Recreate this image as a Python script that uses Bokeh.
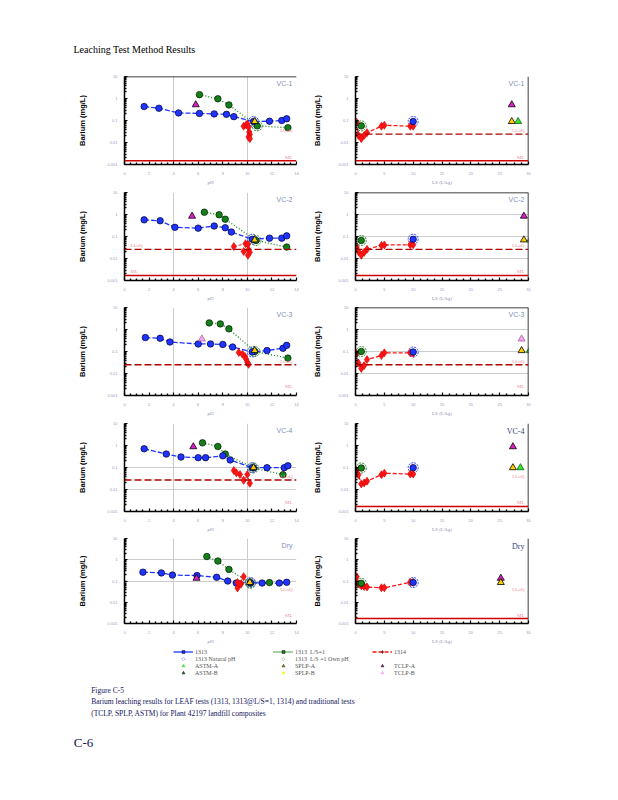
from bokeh.plotting import figure
from bokeh.models import (FixedTicker, Span, Label, Legend, LegendItem,
                          ColumnDataSource, CustomJSTickFormatter)
from bokeh.layouts import column, row
from bokeh.embed import file_html
from bokeh.resources import INLINE

# ---------------- data ----------------
COMPOSITES = ["VC-1", "VC-2", "VC-3", "VC-4", "Dry"]
PH_TICKS = [0, 2, 4, 6, 8, 10, 12, 14]
LS_TICKS = [0, 5, 10, 15, 20, 25, 30]
BA_TICKS = [0.001, 0.01, 0.1, 1, 10]
BA_TICK_LABELS = ["0.001", "0.01", "0.1", "1", "10"]
LS_1314 = [0.2, 0.5, 1.0, 1.5, 2.0, 4.5, 5.0, 9.5, 10.0]
LS_NAT = 10.0
LS_OWN = 1.0

VC1_1313_PH = [1.6, 2.8, 4.4, 6.1, 7.3, 8.3, 8.9, 10.5, 11.8, 12.8, 13.2]
VC1_1313_BA = [0.43, 0.36, 0.22, 0.21, 0.20, 0.19, 0.15, 0.09, 0.093, 0.10, 0.12]
VC1_NAT = [10.5, 0.09]
VC1_LS1_PH = [6.1, 7.6, 8.5, 10.8, 13.3]
VC1_LS1_BA = [1.5, 0.97, 0.51, 0.057, 0.047]
VC1_OWN = [10.8, 0.057]
VC1_1314_PH = [9.7, 9.9, 10.0, 10.1, 10.15, 10.2, 10.1, 10.2]
VC1_1314_PHBA = [0.055, 0.063, 0.07, 0.05, 0.03, 0.023, 0.018, 0.015]
VC1_1314_BA = [0.084, 0.021, 0.015, 0.021, 0.028, 0.055, 0.061, 0.055, 0.055]
VC1_TCLP = ["A", 5.8, 27.1, 0.52]
VC1_SPLP = [10.6, 27.1, 0.09]
VC1_ASTM = [[28.2], [0.09]]
VC1_QL, VC1_ML = 0.024, 0.0015

VC2_1313_PH = [1.6, 2.9, 4.1, 6.0, 7.3, 8.2, 8.7, 10.4, 11.8, 12.8, 13.2]
VC2_1313_BA = [0.57, 0.52, 0.26, 0.24, 0.30, 0.25, 0.16, 0.075, 0.084, 0.084, 0.107]
VC2_NAT = [10.4, 0.075]
VC2_LS1_PH = [6.5, 7.7, 8.2, 10.7, 13.2]
VC2_LS1_BA = [1.27, 0.97, 0.61, 0.066, 0.033]
VC2_OWN = [10.7, 0.066]
VC2_1314_PH = [8.9, 9.85, 10.05, 9.7, 10.1, 10.2, 10.05]
VC2_1314_PHBA = [0.035, 0.047, 0.044, 0.021, 0.025, 0.019, 0.014]
VC2_1314_BA = [0.033, 0.021, 0.014, 0.019, 0.026, 0.039, 0.041, 0.042, 0.042]
VC2_TCLP = ["A", 5.5, 29.2, 0.84]
VC2_SPLP = [10.6, 29.2, 0.07]
VC2_ASTM = [[30.3], [0.07]]
VC2_QL, VC2_ML = 0.026, 0.0017

VC3_1313_PH = [1.7, 2.9, 3.7, 6.0, 7.0, 8.0, 8.8, 10.4, 11.6, 12.9, 13.2]
VC3_1313_BA = [0.43, 0.40, 0.27, 0.22, 0.22, 0.21, 0.16, 0.095, 0.11, 0.14, 0.19]
VC3_NAT = [10.4, 0.095]
VC3_LS1_PH = [6.9, 7.8, 8.5, 10.6, 13.3]
VC3_LS1_BA = [2.0, 1.8, 1.07, 0.10, 0.05]
VC3_OWN = [10.6, 0.10]
VC3_1314_PH = [9.3, 9.6, 9.8, 9.9, 10.0, 10.1]
VC3_1314_PHBA = [0.09, 0.075, 0.06, 0.045, 0.032, 0.026]
VC3_1314_BA = [0.083, 0.03, 0.017, 0.023, 0.043, 0.066, 0.087, 0.087, 0.083]
VC3_TCLP = ["B", 6.3, 28.8, 0.37]
VC3_SPLP = [10.6, 28.8, 0.11]
VC3_ASTM = [[30.2], [0.11]]
VC3_QL, VC3_ML = 0.025, 0.0017

VC4_1313_PH = [1.6, 3.4, 4.6, 6.0, 6.6, 8.0, 8.6, 10.4, 11.6, 13.0, 13.3]
VC4_1313_BA = [0.71, 0.41, 0.30, 0.28, 0.28, 0.34, 0.22, 0.098, 0.098, 0.098, 0.12]
VC4_NAT = [10.4, 0.098]
VC4_LS1_PH = [6.35, 7.6, 8.2, 10.5, 12.9]
VC4_LS1_BA = [1.32, 0.90, 0.41, 0.095, 0.047]
VC4_OWN = [10.5, 0.095]
VC4_1314_PH = [8.9, 9.1, 9.4, 9.7, 10.0, 10.2]
VC4_1314_PHBA = [0.073, 0.057, 0.048, 0.026, 0.048, 0.019]
VC4_1314_BA = [0.073, 0.047, 0.018, 0.020, 0.024, 0.047, 0.055, 0.050, 0.050]
VC4_TCLP = ["A", 5.6, 27.3, 0.88]
VC4_SPLP = [10.5, 27.3, 0.098]
VC4_ASTM = [[28.6], [0.098]]
VC4_QL, VC4_ML = 0.027, 0.0017

DRY_1313_PH = [1.5, 3.0, 3.9, 5.9, 7.5, 8.4, 9.1, 10.25, 11.2, 12.6, 13.2]
DRY_1313_BA = [0.26, 0.24, 0.19, 0.18, 0.15, 0.10, 0.08, 0.085, 0.08, 0.08, 0.087]
DRY_NAT = [10.25, 0.085]
DRY_LS1_PH = [6.7, 7.6, 8.5, 10.25, 11.8]
DRY_LS1_BA = [1.42, 0.87, 0.35, 0.078, 0.084]
DRY_OWN = [10.25, 0.078]
DRY_1314_PH = [9.7, 9.2, 9.5, 9.4, 9.2]
DRY_1314_PHBA = [0.16, 0.084, 0.075, 0.071, 0.047]
DRY_1314_BA = [0.16, 0.073, 0.06, 0.055, 0.052, 0.048, 0.048, 0.087, 0.087]
DRY_TCLP = ["A", 5.86, 25.2, 0.135]
DRY_SPLP = [10.2, 25.2, 0.085]
DRY_ASTM = [[], []]
DRY_QL, DRY_ML = 0.028, 0.0017

# ---------------- styling config ----------------
QL_LINE_L = [False, True, True, True, False]
QL_LINE_R = [True, True, True, False, False]
ML_LINE_L = [True, True, False, False, False]
ML_LINE_R = [True, True, False, True, True]
HGRID_L = [[], [], [], [0.1, 0.01], [1, 0.1]]
HGRID_R = [[], [1, 0.1, 0.01], [1, 0.1, 0.01], [], []]
TOP_L = [True, False, False, False, False]
TOP_R = [False, True, True, False, False]
SERIF_NAME_R = [False, False, False, True, True]
BORDER_TOP = [5, 5, 4, 5, 4]
BORDER_BOTTOM = [23, 23, 23, 23, 20]

BLUE = "#1f35ff"
GREEN = "#15801a"
RED = "#ff1414"
QL_RED = "#b00000"
ML_RED = "#cc0000"
TCLP_A = "#e01ec8"
TCLP_B = "#f6a6ea"
SPLP_C = "#ffcc00"
ASTM_C = "#33e633"
TICK_LBL = "#9a9ac0"
SANS = "Liberation Sans"
SERIF = "Liberation Serif"
FRAME_H = 88

DATA = []
for pre in ["VC1", "VC2", "VC3", "VC4", "DRY"]:
    g = globals()
    DATA.append(dict(
        p1313=g[pre + "_1313_PH"], b1313=g[pre + "_1313_BA"], nat=g[pre + "_NAT"],
        pls1=g[pre + "_LS1_PH"], bls1=g[pre + "_LS1_BA"], own=g[pre + "_OWN"],
        p1314=g[pre + "_1314_PH"], pb1314=g[pre + "_1314_PHBA"], b1314=g[pre + "_1314_BA"],
        tclp=g[pre + "_TCLP"], splp=g[pre + "_SPLP"], astm=g[pre + "_ASTM"],
        ql=g[pre + "_QL"], ml=g[pre + "_ML"]))

fmt = CustomJSTickFormatter(args=dict(labels=BA_TICK_LABELS),
                            code="const e = Math.round(Math.log10(tick)); return labels[e + 3];")


def minor_between(ticks, n):
    out = []
    for a, b in zip(ticks[:-1], ticks[1:]):
        for k in range(1, n + 1):
            out.append(a + (b - a) * k / (n + 1))
    return out


def make_panel(i, left):
    d = DATA[i]
    tb, bb = BORDER_TOP[i], BORDER_BOTTOM[i]
    xr = (0, 14) if left else (0, 30)
    p = figure(width=306 if left else 232, height=tb + FRAME_H + bb,
               x_range=xr, y_range=(0.001, 10), y_axis_type="log",
               output_backend="svg", toolbar_location=None,
               min_border_left=124 if left else 49, min_border_right=10,
               min_border_top=tb, min_border_bottom=bb)
    p.outline_line_color = None
    p.background_fill_color = "white"
    p.border_fill_color = "white"

    p.xgrid.ticker = FixedTicker(ticks=[4, 10] if left else [])
    p.xgrid.grid_line_color = "#cccccc"
    p.ygrid.ticker = FixedTicker(ticks=HGRID_L[i] if left else HGRID_R[i])
    p.ygrid.grid_line_color = "#cccccc"

    xa = p.xaxis[0]
    ticks = PH_TICKS if left else LS_TICKS
    xa.ticker = FixedTicker(ticks=ticks, minor_ticks=minor_between(ticks, 3))
    xa.axis_label = "pH" if left else "LS (L/kg)"
    ya = p.yaxis[0]
    minors = [k * 10.0 ** e for e in range(-3, 1) for k in range(2, 10)]
    ya.ticker = FixedTicker(ticks=BA_TICKS, minor_ticks=minors)
    ya.formatter = fmt
    ya.axis_label = "Barium (mg/L)"
    for ax in (xa, ya):
        ax.axis_line_color = "black"
        ax.axis_line_width = 1.5
        ax.major_tick_in = 3
        ax.major_tick_out = 0
        ax.minor_tick_in = 2
        ax.minor_tick_out = 0
        ax.major_tick_line_width = 1.2
        ax.minor_tick_line_width = 1.4
        ax.major_tick_line_color = "black"
        ax.minor_tick_line_color = "black"
        ax.major_label_text_font_size = "4px"
        ax.major_label_text_color = TICK_LBL
        ax.major_label_text_font = SANS
    xa.major_label_standoff = 7
    xa.axis_label_standoff = 2
    xa.axis_label_text_font_size = "5px"
    xa.axis_label_text_font_style = "normal"
    xa.axis_label_text_color = "#8f8fb0"
    xa.axis_label_text_font = SERIF
    ya.major_label_standoff = 7
    ya.axis_label_standoff = 17 if left else 13
    ya.axis_label_text_font_size = "7.5px"
    ya.axis_label_text_font_style = "bold"
    ya.axis_label_text_color = "black"
    ya.axis_label_text_font = SANS

    xend = xr[1]
    if (left and TOP_L[i]) or ((not left) and TOP_R[i]):
        p.add_layout(Span(location=10, dimension="width", line_color="black", line_width=1.5))
    if not left:
        p.add_layout(Span(location=xend, dimension="height", line_color="black", line_width=1.5))

    show_ql = QL_LINE_L[i] if left else QL_LINE_R[i]
    show_ml = ML_LINE_L[i] if left else ML_LINE_R[i]
    if show_ql:
        p.add_layout(Span(location=d["ql"], dimension="width", line_color=QL_RED,
                          line_dash="7 3", line_width=1.3))
    if show_ml:
        p.add_layout(Span(location=d["ml"], dimension="width", line_color=ML_RED,
                          line_width=1.5))
    at_left = left and i == 1
    for txt, lev in (("LLoQ", d["ql"]), ("ML", d["ml"])):
        p.add_layout(Label(x=0 if at_left else xend, y=lev, text=txt,
                           x_offset=6 if at_left else -4, y_offset=1,
                           text_align="left" if at_left else "right",
                           text_baseline="bottom", text_font_size="5px",
                           text_color="#ee8f9a", text_font=SERIF))

    serif = (not left) and SERIF_NAME_R[i]
    p.add_layout(Label(x=xend, y=10, text=COMPOSITES[i], x_offset=-4, y_offset=-3,
                       text_align="right", text_baseline="top",
                       text_font_size="8px" if serif else "7px",
                       text_font=SERIF if serif else SANS,
                       text_color="#34447a" if serif else "#7f90b8"))

    ring = dict(marker="circle", size=10, fill_color=None, line_width=0.9, line_dash="2 1")
    blue_pt = dict(marker="circle", size=6.5, fill_color=BLUE, line_color="#000030", line_width=0.7)
    green_pt = dict(marker="circle", size=6.5, fill_color=GREEN, line_color="#001800", line_width=0.7)
    red_pt = dict(marker="diamond", size=8, fill_color=RED, line_color="#d00000", line_width=0.6)

    tv, tph, tls, tba = d["tclp"]
    tclp_fill = TCLP_A if tv == "A" else TCLP_B
    tclp_line = "black" if tv == "A" else "#b060a8"
    sph, sls, sba = d["splp"]

    if left:
        p.scatter([d["nat"][0]], [d["nat"][1]], line_color=BLUE, **ring)
        p.scatter([d["own"][0]], [d["own"][1]], line_color=GREEN, **ring)
        p.line(d["pls1"], d["bls1"], line_color=GREEN, line_width=1.3, line_dash="1 2")
        p.line(d["p1313"], d["b1313"], line_color=BLUE, line_width=1.3, line_dash="5 2")
        p.line(d["p1314"], d["pb1314"], line_color=RED, line_width=1.0, line_dash="3 2")
        p.scatter(d["pls1"], d["bls1"], **green_pt)
        p.scatter(d["p1313"], d["b1313"], **blue_pt)
        p.scatter(d["p1314"], d["pb1314"], **red_pt)
        p.scatter([tph], [tba], marker="triangle", size=7, fill_color=tclp_fill,
                  line_color=tclp_line, line_width=0.8)
        p.scatter([sph], [sba], marker="triangle", size=7, fill_color=SPLP_C,
                  line_color="black", line_width=0.8)
    else:
        p.scatter([LS_NAT], [d["nat"][1]], line_color=BLUE, **ring)
        p.scatter([LS_OWN], [d["own"][1]], line_color=GREEN, **ring)
        p.line(LS_1314, d["b1314"], line_color=RED, line_width=1.3, line_dash="4 2")
        p.scatter(LS_1314, d["b1314"], **red_pt)
        p.scatter([LS_OWN], [d["own"][1]], **green_pt)
        p.scatter([LS_NAT], [d["nat"][1]], **blue_pt)
        p.scatter([tls], [tba], marker="triangle", size=7, fill_color=tclp_fill,
                  line_color=tclp_line, line_width=0.8)
        p.scatter([sls], [sba], marker="triangle", size=7, fill_color=SPLP_C,
                  line_color="black", line_width=0.8)
        p.scatter(d["astm"][0], d["astm"][1], marker="triangle", size=7,
                  fill_color=ASTM_C, line_color="#106010", line_width=0.8)
    return p


rows = [row(make_panel(i, True), make_panel(i, False)) for i in range(5)]

hdr = figure(width=600, height=71, x_range=(0, 600), y_range=(0, 71),
             x_axis_type=None, y_axis_type=None, output_backend="svg",
             toolbar_location=None, min_border=0)
hdr.outline_line_color = None
hdr.grid.visible = False
hdr.add_layout(Label(x=73, y=22, text="Leaching Test Method Results", text_font=SERIF,
                     text_font_size="10px", text_baseline="middle", text_color="black"))

ft = figure(width=600, height=146, x_range=(0, 600), y_range=(0, 146),
            x_axis_type=None, y_axis_type=None, output_backend="svg",
            toolbar_location=None, min_border=0)
ft.outline_line_color = None
ft.grid.visible = False
NAN = float("nan")
src = ColumnDataSource(data=dict(x=[NAN], y=[NAN]))


def ln(**kw):
    return ft.line("x", "y", source=src, **kw)


def sc(**kw):
    return ft.scatter("x", "y", source=src, size=3.5, line_width=0.6, **kw)


r1313 = [ln(line_color=BLUE, line_width=1.3), sc(marker="square", fill_color=BLUE, line_color="#000030")]
rnat = [sc(marker="circle", fill_color=None, line_color=BLUE, line_dash="1 1")]
rastma = [sc(marker="triangle", fill_color=ASTM_C, line_color=ASTM_C)]
rastmb = [sc(marker="triangle", fill_color="#2a8a2a", line_color="black")]
rls1 = [ln(line_color=GREEN, line_width=1.3, line_dash="1 1"), sc(marker="square", fill_color=GREEN, line_color="#001800")]
rown = [sc(marker="circle", fill_color=None, line_color=GREEN, line_dash="1 1")]
rsplpa = [sc(marker="triangle", fill_color=SPLP_C, line_color="black")]
rsplpb = [sc(marker="triangle", fill_color="#ffee00", line_color="#ffee00")]
r1314 = [ln(line_color=RED, line_width=1.3, line_dash="4 2"), sc(marker="diamond", fill_color=RED, line_color="black")]
rtclpa = [sc(marker="triangle", fill_color=TCLP_A, line_color="black")]
rtclpb = [sc(marker="triangle", fill_color=TCLP_B, line_color=TCLP_B)]


def add_legend(items, x, y):
    lg = Legend(items=[LegendItem(label=t, renderers=r) for t, r in items],
                location=(x, y), orientation="vertical", glyph_width=20, glyph_height=7,
                label_height=7, spacing=0, padding=0, margin=0, label_standoff=2,
                border_line_color=None, background_fill_alpha=0,
                label_text_font_size="6px", label_text_font=SERIF,
                label_text_color="#555555")
    ft.add_layout(lg)


# legend location = bottom-left corner of each legend block
add_legend([("1313", r1313), ("1313 Natural pH", rnat), ("ASTM-A", rastma), ("ASTM-B", rastmb)], 173, 116)
add_legend([("1313  L/S=1", rls1), ("1313  L/S =1 Own pH", rown), ("SPLP-A", rsplpa), ("SPLP-B", rsplpb)], 273, 116)
add_legend([("1314", r1314)], 372, 137)
add_legend([("TCLP-A", rtclpa), ("TCLP-B", rtclpb)], 372, 116)

CAPTION = ["Figure C-5",
           "Barium leaching results for LEAF tests (1313, 1313@L/S=1, 1314) and traditional tests",
           "(TCLP, SPLP, ASTM) for Plant 42197 landfill composites"]
for txt, yy in zip(CAPTION, [102, 91, 79.3]):
    ft.add_layout(Label(x=90.7, y=yy, text=txt, text_font=SERIF, text_font_size="7.5px",
                        text_baseline="middle", text_color="#14145a"))
ft.add_layout(Label(x=73.3, y=50.3, text="C-6", text_font=SERIF, text_font_size="13px",
                    text_baseline="middle", text_color="#14145a"))

page = column(hdr, *rows, ft)
open("out.html", "w").write(file_html(page, INLINE))
